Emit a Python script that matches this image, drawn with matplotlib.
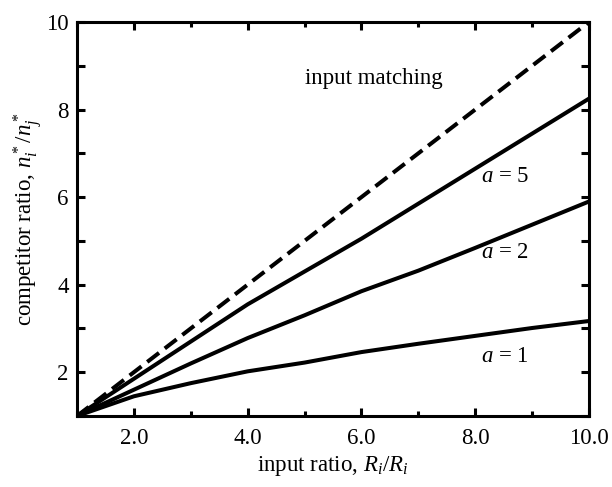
import matplotlib
matplotlib.use('Agg')
import matplotlib.pyplot as plt
from matplotlib.ticker import MultipleLocator

# 字体: Times风格
plt.rcParams['font.family'] = ['Liberation Serif', 'DejaVu Serif']
plt.rcParams['mathtext.fontset'] = 'custom'
plt.rcParams['mathtext.rm'] = 'Liberation Serif'
plt.rcParams['mathtext.it'] = 'Liberation Serif:italic'

# 数据
input_ratio = [1, 2, 3, 4, 5, 6, 7, 8, 9, 10]
matching = [1, 2, 3, 4, 5, 6, 7, 8, 9, 10]
a5 = [1.0, 1.85, 2.7, 3.55, 4.3, 5.05, 5.85, 6.65, 7.45, 8.25]
a2 = [1.0, 1.6, 2.2, 2.78, 3.3, 3.85, 4.32, 4.84, 5.37, 5.9]
a1 = [1.0, 1.45, 1.75, 2.02, 2.22, 2.46, 2.65, 2.83, 3.01, 3.17]

x_ticks = [2, 4, 6, 8, 10]
x_tick_labels = ['2.0', '4.0', '6.0', '8.0', '10.0']
y_ticks = [2, 4, 6, 8, 10]

fs = 16.5

fig = plt.figure(figsize=(6.12, 4.87), dpi=100)
ax = fig.add_axes([0.1258, 0.1458, 0.8366, 0.809])

ax.plot(input_ratio, matching, color='black', lw=2.9, ls=(0, (3.7, 1.8)))
ax.plot(input_ratio, a5, color='black', lw=2.9)
ax.plot(input_ratio, a2, color='black', lw=2.9)
ax.plot(input_ratio, a1, color='black', lw=2.9)

ax.text(5.0, 8.72, 'input matching', fontsize=fs, va='center', ha='left')
ax.text(8.1, 6.46, '$a$ = 5', fontsize=fs, va='center', ha='left')
ax.text(8.1, 4.73, '$a$ = 2', fontsize=fs, va='center', ha='left')
ax.text(8.1, 2.35, '$a$ = 1', fontsize=fs, va='center', ha='left')

ax.set_xlim(1, 10)
ax.set_ylim(1, 10)
ax.set_xticks(x_ticks)
ax.set_xticklabels(x_tick_labels)
ax.set_yticks(y_ticks)
ax.xaxis.set_minor_locator(MultipleLocator(1))
ax.yaxis.set_minor_locator(MultipleLocator(1))

ax.tick_params(which='both', direction='in', top=True, right=True,
               width=2.2, labelsize=fs)
ax.tick_params(axis='x', which='both', pad=9)
ax.tick_params(axis='y', which='both', pad=6)
ax.tick_params(which='major', length=6)
ax.tick_params(axis='x', which='minor', length=3.5)
ax.tick_params(axis='y', which='minor', length=6)
for sp in ax.spines.values():
    sp.set_linewidth(2.2)

ax.set_xlabel('input ratio, $R_i/R_i$', fontsize=fs, labelpad=3)
ax.set_ylabel('competitor ratio, $n_i^*/n_j^*$', fontsize=fs, labelpad=1)

fig.savefig('out.png', dpi=100)
